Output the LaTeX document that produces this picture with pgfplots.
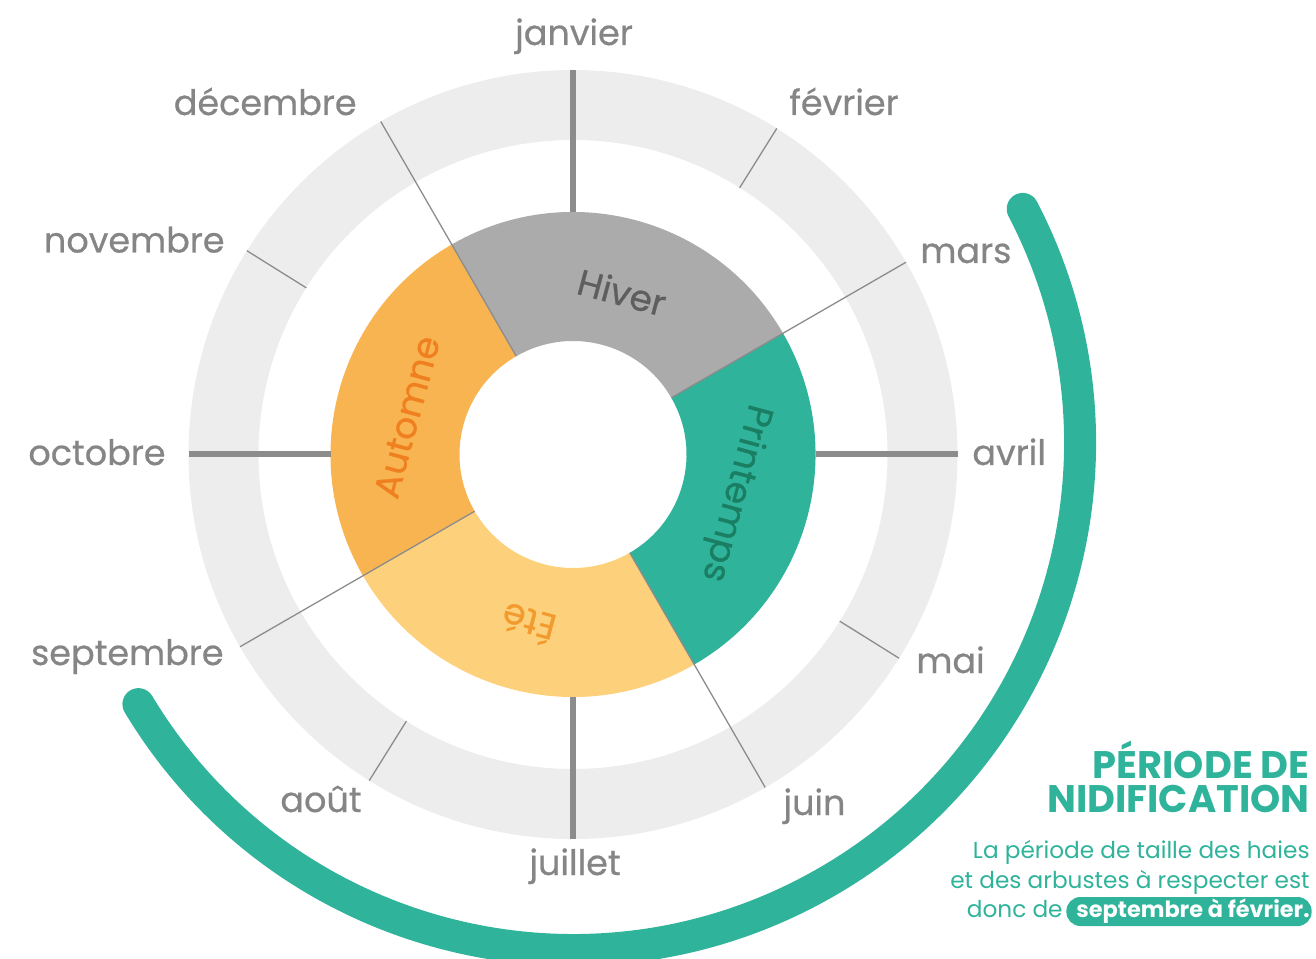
\documentclass[border=0pt]{standalone}
\usepackage{fontspec}
\setmainfont{Poppins}
\newfontfamily\medfont{Poppins}[FakeBold=0.6]
\usepackage{pgfplots}
\pgfplotsset{compat=1.18}

\definecolor{ringgrey}{HTML}{EDEDED}
\definecolor{linegrey}{HTML}{8C8C8C}
\definecolor{monthgrey}{HTML}{858585}
\definecolor{hiver}{HTML}{ABABAB}
\definecolor{hivertxt}{HTML}{5E5E5E}
\definecolor{printemps}{HTML}{30B39B}
\definecolor{printempstxt}{HTML}{1A7E62}
\definecolor{ete}{HTML}{FDD17B}
\definecolor{etetxt}{HTML}{F39A2E}
\definecolor{automne}{HTML}{F8B451}
\definecolor{automnetxt}{HTML}{EF7F1F}
\definecolor{nidteal}{HTML}{2FB39A}

\tikzset{
  mlabel/.style={text=monthgrey,font=\medfont\fontsize{17.5}{17.5}\selectfont,inner sep=0pt},
  slabel/.style={font=\medfont\fontsize{18}{18}\selectfont,inner sep=0pt,anchor=center}}

% sector: start angle, end angle, inner r, outer r (px), colour
\newcommand\sector[5]{%
  \fill[#5] ([shift={(#1:#4*0.5pt)}]axis cs:0,0)
    arc[start angle=#1,end angle=#2,radius=#4*0.5pt]
    -- ([shift={(#2:#3*0.5pt)}]axis cs:0,0)
    arc[start angle=#2,end angle=#1,radius=#3*0.5pt] -- cycle;}

\begin{document}
\begin{tikzpicture}
\begin{axis}[x=0.5pt,y=0.5pt,
  xmin=-573,xmax=743,ymin=-503.5,ymax=454.5,
  hide axis,clip=false]
\coordinate (SW) at (axis cs:-573,-503.5);
\coordinate (NE) at (axis cs:743,454.5);

% month ring
\fill[ringgrey,even odd rule] (axis cs:0,0) circle[radius=192.25pt]
     (axis cs:0,0) circle[radius=157.25pt];

% seasons (3 months each)
\sector{30}{120}{113.5}{242.5}{hiver}
\sector{-60}{30}{113.5}{242.5}{printemps}
\sector{-150}{-60}{113.5}{242.5}{ete}
\sector{-240}{-150}{113.5}{242.5}{automne}

% thick quarter lines
\addplot[linegrey,line width=3pt,data cs=polar] coordinates {(90,242.5) (90,384.5)};
\addplot[linegrey,line width=3pt,data cs=polar] coordinates {(0,242.5) (0,384.5)};
\addplot[linegrey,line width=3pt,data cs=polar] coordinates {(-90,242.5) (-90,384.5)};
\addplot[linegrey,line width=3pt,data cs=polar] coordinates {(180,242.5) (180,384.5)};
% season boundaries
\addplot[linegrey,line width=0.65pt,data cs=polar] coordinates {(120,113.5) (120,384.5)};
\addplot[linegrey,line width=0.65pt,data cs=polar] coordinates {(30,113.5) (30,384.5)};
\addplot[linegrey,line width=0.65pt,data cs=polar] coordinates {(-60,113.5) (-60,384.5)};
\addplot[linegrey,line width=0.65pt,data cs=polar] coordinates {(-150,113.5) (-150,384.5)};
% other month ticks
\addplot[linegrey,line width=0.65pt,data cs=polar] coordinates {(58,314.5) (58,384.5)};
\addplot[linegrey,line width=0.65pt,data cs=polar] coordinates {(148,314.5) (148,384.5)};
\addplot[linegrey,line width=0.65pt,data cs=polar] coordinates {(-32,314.5) (-32,384.5)};
\addplot[linegrey,line width=0.65pt,data cs=polar] coordinates {(-122,314.5) (-122,384.5)};

% season labels
\node[slabel,text=hivertxt,rotate=-15] at (axis cs:49,162.5) {Hiver};
\node[slabel,text=printempstxt,rotate=-105] at (axis cs:162,-38.5) {Printemps};
\node[slabel,text=etetxt,rotate=165] at (axis cs:-45,-170.5) {Été};
\node[slabel,text=automnetxt,rotate=75] at (axis cs:-166,37.5) {Automne};

% month labels
\node[mlabel,anchor=base] at (axis cs:1,409.5) {janvier};
\node[mlabel,anchor=base west] at (axis cs:216,339.5) {février};
\node[mlabel,anchor=base west] at (axis cs:347,191.5) {mars};
\node[mlabel,anchor=base west] at (axis cs:399,-10.5) {avril};
\node[mlabel,anchor=base west] at (axis cs:343,-218.5) {mai};
\node[mlabel,anchor=base west] at (axis cs:210,-360.5) {juin};
\node[mlabel,anchor=base] at (axis cs:2,-420.5) {juillet};
\node[mlabel,anchor=base east] at (axis cs:-211,-357.5) {août};
\node[mlabel,anchor=base east] at (axis cs:-349,-210.5) {septembre};
\node[mlabel,anchor=base east] at (axis cs:-407,-10.5) {octobre};
\node[mlabel,anchor=base east] at (axis cs:-348,202) {novembre};
\node[mlabel,anchor=base east] at (axis cs:-216,339.5) {décembre};

% nesting period arc
\draw[nidteal,line width=16pt,line cap=round]
  ([shift={(27.5:253.5pt)}]axis cs:0,11.5) arc[start angle=27.5,end angle=-149,radius=253.5pt];

% text block
\node[anchor=base east,inner sep=0pt,text=nidteal,font=\bfseries\fontsize{19.2}{19.2}\selectfont]
  at (axis cs:737,-323.5) {PÉRIODE DE};
\node[anchor=base east,inner sep=0pt,text=nidteal,font=\bfseries\fontsize{19.2}{19.2}\selectfont]
  at (axis cs:737,-357.5) {NIDIFICATION};
\node[anchor=base east,inner sep=0pt,text=nidteal,font=\fontsize{11.6}{11.6}\selectfont]
  at (axis cs:737,-403.5) {La période de taille des haies};
\node[anchor=base east,inner sep=0pt,text=nidteal,font=\fontsize{11.6}{11.6}\selectfont]
  at (axis cs:737,-433.5) {et des arbustes à respecter est};
\node[anchor=base east,fill=nidteal,text=white,rounded corners=7pt,
  font=\bfseries\fontsize{11.2}{11.2}\selectfont,inner xsep=1pt,inner ysep=2pt,
  text height=8pt,text depth=2.5pt] (pill)
  at (axis cs:739,-462.5) {\hspace*{4pt}septembre à février.};
\node[anchor=base east,inner sep=0pt,text=nidteal,font=\fontsize{11.6}{11.6}\selectfont]
  at ([xshift=-1.5pt]pill.base west) {donc de};
\end{axis}
\pgfresetboundingbox
\path[use as bounding box] (SW) rectangle (NE);
\end{tikzpicture}
\end{document}
